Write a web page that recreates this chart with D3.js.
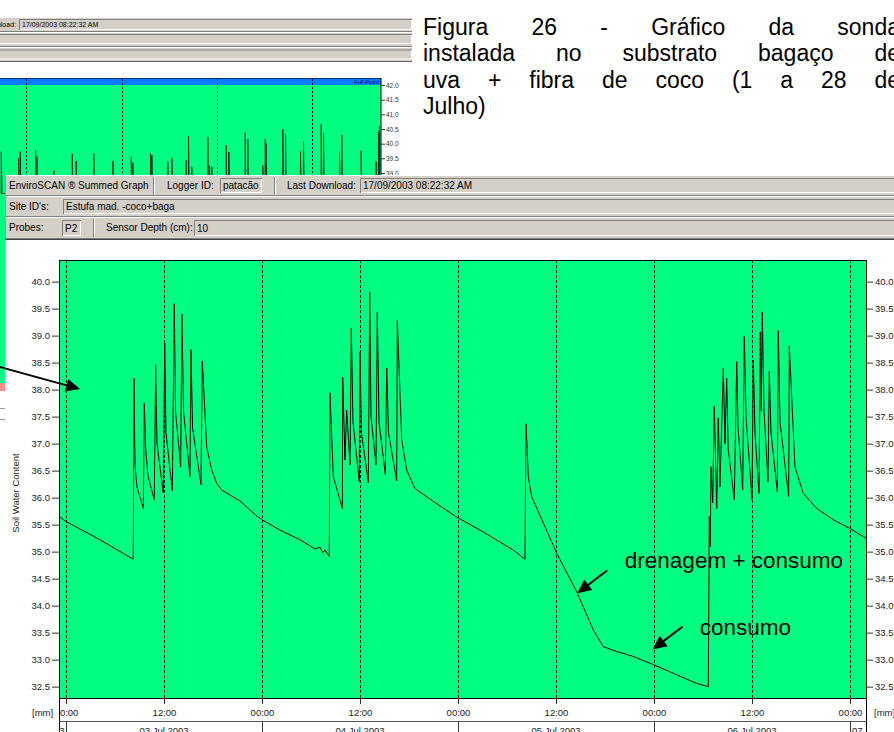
<!DOCTYPE html>
<html>
<head>
<meta charset="utf-8">
<title>Figura 26 - EnviroSCAN</title>
<script src="https://cdn.jsdelivr.net/npm/d3@7/dist/d3.min.js"></script>
<style>
  body { margin: 0; background: #fff; overflow: hidden; }
  svg { display: block; }
  text { font-family: "Liberation Sans", Arial, sans-serif; }
</style>
</head>
<body>
<div id="vis-container"></div>
<script>
// ---- values ----

// probe P2 trace: hours after 03 Jul 2003 00:00, soil water content
var hours = [-0.86, 0, 4.16, 8.24, 8.33, 8.45, 8.69, 9.47, 9.59, 9.76, 10.04, 10.81, 10.98, 11.14, 11.91,
  12.09, 12.24, 13.02, 13.26, 13.41, 14.04, 14.20, 14.39, 15.18, 15.31, 15.49, 16.53, 16.69, 17.23, 17.84,
  18.45, 19.07, 21.31, 23.35, 24.04, 26.20, 28.65, 30.49, 31.10, 31.47, 31.71, 32.24, 32.33, 32.73, 33.84,
  33.88, 34.16, 34.37, 34.78, 34.94, 35.14, 35.91, 36.00, 36.18, 37.02, 37.19, 37.35, 37.96, 38.12, 38.33,
  39.10, 39.27, 39.49, 40.49, 40.57, 41.11, 41.72, 42.73, 44.98, 47.84, 50.69, 54.77, 56.20, 56.33, 56.61,
  57.02, 60.09, 62.53, 64.57, 65.79, 67.43, 69.46, 72.04, 74.78, 77.23, 78.65, 78.77, 78.89, 78.98, 79.19,
  79.38, 79.68, 79.87, 80.08, 80.49, 80.69, 80.90, 81.09, 81.83, 82.13, 82.29, 82.86, 83.06, 83.27, 84.00,
  84.16, 84.37, 84.86, 85.02, 85.14, 85.26, 85.47, 85.96, 86.12, 86.33, 87.10, 87.22, 87.43, 88.49, 88.57,
  89.26, 90.28, 91.92, 93.96, 96.09, 97.96];
var swc = [35.65, 35.56, 35.22, 34.86, 38.21, 36.6, 36.2, 35.80, 37.75, 36.9, 36.4, 35.96, 38.46, 37.0, 36.09,
  38.86, 37.2, 36.13, 39.59, 37.6, 36.57, 39.40, 37.6, 36.39, 38.74, 37.3, 36.24, 38.53, 36.94, 36.51,
  36.27, 36.14, 35.94, 35.66, 35.59, 35.40, 35.22, 35.05, 35.08, 34.98, 35.03, 34.91, 37.94, 36.39, 35.80,
  38.23, 36.70, 37.62, 36.61, 39.14, 37.4, 36.30, 38.70, 37.2, 36.28, 39.81, 37.5, 36.61, 39.43, 37.4,
  36.43, 38.40, 37.2, 36.31, 39.28, 37.07, 36.51, 36.17, 35.93, 35.64, 35.40, 35.03, 34.86, 37.37, 36.39,
  36.02, 34.97, 34.26, 33.55, 33.24, 33.15, 33.06, 32.90, 32.72, 32.56, 32.50, 35.65, 35.09, 36.57, 35.90,
  37.69, 35.80, 37.47, 36.20, 38.40, 37.0, 38.21, 36.9, 35.96, 38.52, 37.3, 36.14, 38.98, 37.5, 35.96,
  38.55, 37.2, 36.08, 39.07, 37.6, 39.44, 37.6, 36.30, 38.34, 37.2, 36.11, 39.09, 37.4, 36.02, 38.81,
  36.57, 36.08, 35.80, 35.59, 35.42, 35.25];

var yTicks = [32.5, 33.0, 33.5, 34.0, 34.5, 35.0, 35.5, 36.0, 36.5, 37.0, 37.5, 38.0, 38.5, 39.0, 39.5, 40.0];
var dayLabels = ["02 Jul 2003", "03 Jul 2003", "04 Jul 2003", "05 Jul 2003", "06 Jul 2003", "07 Jul 2003"];

// the summed graph of the whole month peeking out behind the window
var bgSpikeDays = [0.17, 1.44, 1.56, 2.69, 2.78, 4.03, 5.38, 5.67, 6.96, 8.36, 9.71, 9.82, 11.12, 11.22,
  12.39, 12.69, 13.74, 13.91, 14.15, 15.33, 15.45, 15.62, 16.68, 16.87, 18.07, 18.26, 19.36, 19.54, 19.61,
  20.83, 21.03, 22.13, 22.35, 23.65, 23.82, 24.99, 25.16, 26.58, 27.68, 27.85, 27.92];
var bgSpikeVals = [39.73, 39.51, 39.73, 39.78, 39.56, 39.08, 39.65, 39.41, 39.67, 39.41, 39.56, 39.35, 39.67,
  39.61, 39.39, 39.52, 39.44, 40.26, 39.21, 40.22, 39.25, 39.21, 39.95, 39.71, 40.37, 40.16, 39.25, 40.16,
  40.01, 40.49, 40.33, 39.73, 40.09, 40.67, 40.35, 39.73, 40.30, 39.76, 39.39, 40.41, 40.58];
var bgTicks = [39.0, 39.5, 40.0, 40.5, 41.0, 41.5, 42.0];
var bgWeekLines = [2, 9, 16, 23];

var caption = [
  "Figura 26 - Gráfico da sonda",
  "instalada no substrato bagaço de",
  "uva + fibra de coco (1 a 28 de",
  "Julho)"
];

// annotations: text anchor, arrow tail and tip in chart units (hours, value)
var notes = [
  { text: "drenagem + consumo", at: [68.43, 34.70], tail: [66.26, 34.65], tip: [62.59, 34.23] },
  { text: "consumo", at: [77.61, 33.46], tail: [75.49, 33.61], tip: [71.82, 33.19] }
];
var leftArrow = { tail: [-8.6, 38.44], tip: [1.71, 38.01] };

// ---- drawing ----
var width = 894, height = 732;
var grey = "#d4d0c8";

var svg = d3.select("#vis-container").append("svg")
  .attr("width", width).attr("height", height);

// sunken field of a windows dialog
function field(g, x, y, w, h, label, fs, pad) {
  g.append("rect").attr("x", x).attr("y", y).attr("width", w).attr("height", h).attr("fill", grey);
  g.append("path").attr("d", "M" + (x + 0.5) + "," + (y + h) + "V" + (y + 0.5) + "H" + (x + w))
    .attr("stroke", "#808080").attr("fill", "none");
  g.append("path").attr("d", "M" + (x + 1) + "," + (y + h - 0.5) + "H" + (x + w - 0.5) + "V" + (y + 1))
    .attr("stroke", "#fff").attr("fill", "none");
  if (label) {
    g.append("text").attr("x", x + pad).attr("y", y + h / 2 + fs * 0.36)
      .attr("font-size", fs).attr("fill", "#000").text(label);
  }
}
function hline(g, x1, x2, yy, c) {
  g.append("line").attr("x1", x1).attr("x2", x2).attr("y1", yy).attr("y2", yy).attr("stroke", c);
}
function vline(g, xx, y1, y2, c) {
  g.append("line").attr("x1", xx).attr("x2", xx).attr("y1", y1).attr("y2", y2).attr("stroke", c);
}
function arrow(g, x1, y1, x2, y2) {
  var dx = x2 - x1, dy = y2 - y1, len = Math.sqrt(dx * dx + dy * dy);
  var ux = dx / len, uy = dy / len, L = 14, W = 6.5;
  var bx = x2 - ux * L, by = y2 - uy * L;
  g.append("line").attr("x1", x1).attr("y1", y1).attr("x2", bx + ux * 2).attr("y2", by + uy * 2)
    .attr("stroke", "#000").attr("stroke-width", 2);
  g.append("path")
    .attr("d", "M" + x2 + "," + y2 + "L" + (bx - uy * W) + "," + (by + ux * W) + "L" + (bx + uy * W) + "," + (by - ux * W) + "Z")
    .attr("fill", "#000");
}

// ---------- background window (month view) ----------
var bg = svg.append("g");
bg.append("rect").attr("x", -10).attr("y", 17).attr("width", 422).attr("height", 45).attr("fill", grey);
hline(bg, -10, 412, 17.5, "#fff");
bg.append("text").attr("x", 16).attr("y", 27).attr("text-anchor", "end").attr("font-size", 7).text("Last Download:");
field(bg, 19, 19, 393, 11, "17/09/2003 08:22:32 AM", 7, 3);
hline(bg, -10, 412, 31.5, "#808080"); hline(bg, -10, 412, 32.5, "#fff");
field(bg, -10, 34, 422, 10, null);
hline(bg, -10, 412, 46.5, "#808080"); hline(bg, -10, 412, 47.5, "#fff");
field(bg, -10, 49.5, 422, 10, null);
hline(bg, -10, 412, 61.5, "#606060");

var bgX = d3.scaleLinear().domain([0, 28]).range([-1, 380.5]);
var bgY = d3.scaleLinear().domain([39, 42]).range([173, 85]);

bg.append("rect").attr("x", -5).attr("y", 85).attr("width", 386).attr("height", 298).attr("fill", "#00ff80");
bg.append("rect").attr("x", -5).attr("y", 78).attr("width", 386).attr("height", 7).attr("fill", "#0a7cff");
hline(bg, -5, 381, 78.5, "#002a80");
vline(bg, 381, 78, 383, "#000");
bg.append("text").attr("x", 379).attr("y", 84).attr("text-anchor", "end")
  .attr("font-size", 6).attr("fill", "#001060").text("Full Point");
bg.selectAll("line.week").data(bgWeekLines).enter().append("line")
  .attr("x1", function(d) { return Math.round(bgX(d)) + 0.5; })
  .attr("x2", function(d) { return Math.round(bgX(d)) + 0.5; })
  .attr("y1", 79).attr("y2", 383)
  .attr("stroke", "#000").attr("stroke-dasharray", "2,2");

var spikePts = [];
bgSpikeDays.forEach(function(d, i) {
  spikePts.push([d - 0.01, 38.3], [d, bgSpikeVals[i]], [d + 0.05, 38.3]);
});
bg.append("path")
  .attr("d", d3.line().x(function(p) { return bgX(p[0]); }).y(function(p) { return bgY(p[1]); })(spikePts))
  .attr("fill", "none").attr("stroke", "#04311a").attr("stroke-width", 1);

var bgAxis = bg.append("g").attr("transform", "translate(381,0)")
  .call(d3.axisRight(bgY).tickValues(bgTicks).tickFormat(d3.format(".1f")).tickSize(4).tickPadding(1));
bgAxis.select(".domain").remove();
bgAxis.selectAll("text").attr("font-size", 6.5).attr("fill", "#333");
bgAxis.selectAll("line").attr("stroke", "#333");

bg.append("rect").attr("x", -5).attr("y", 383).attr("width", 10).attr("height", 8).attr("fill", "#ff8a8a");
hline(bg, -5, 5, 408.5, "#999");
hline(bg, -5, 5, 419.5, "#999");

// ---------- caption ----------
var capL = 423, capR = 900, capBase = 35, capLead = 26.3, capSize = 23;
caption.forEach(function(line, i) {
  var words = line.split(" ");
  var g = svg.append("g");
  var nodes = words.map(function(w) {
    return g.append("text").attr("font-size", capSize).attr("fill", "#000")
      .attr("y", capBase + i * capLead).text(w);
  });
  var widths = nodes.map(function(n) { return n.node().getComputedTextLength(); });
  var last = i === caption.length - 1;
  var gap = (last || words.length < 2) ? capSize * 0.278 : (capR - capL - d3.sum(widths)) / (words.length - 1);
  var xx = capL;
  nodes.forEach(function(n, j) { n.attr("x", xx); xx += widths[j] + gap; });
});

// ---------- main window ----------
var win = svg.append("g");
win.append("rect").attr("x", 5).attr("y", 175).attr("width", 900).attr("height", 570).attr("fill", "#fff");
win.append("rect").attr("x", 5).attr("y", 175).attr("width", 900).attr("height", 65).attr("fill", grey);
hline(win, 5, 900, 175.5, "#fff");
vline(win, 5.5, 175, 240, "#9a9a9a");
hline(win, 5, 900, 195.5, "#808080"); hline(win, 5, 900, 196.5, "#fff");
hline(win, 5, 900, 216.5, "#808080"); hline(win, 5, 900, 217.5, "#fff");
hline(win, 5, 900, 238.5, "#808080"); hline(win, 5, 900, 239.5, "#404040");
[153, 274].forEach(function(gx) { vline(win, gx + 0.5, 177, 195, "#808080"); vline(win, gx + 1.5, 177, 195, "#fff"); });
vline(win, 93.5, 218, 237, "#808080"); vline(win, 94.5, 218, 237, "#fff");

var pfs = 10;
function plabel(x, y, t) { win.append("text").attr("x", x).attr("y", y).attr("font-size", pfs).attr("fill", "#000").text(t); }
plabel(9, 189, "EnviroSCAN \u00ae Summed Graph");
plabel(167, 189, "Logger ID:");
field(win, 220, 178, 42, 15, "patacão", pfs, 3);
plabel(287, 189, "Last Download:");
field(win, 360, 178, 545, 15, "17/09/2003 08:22:32 AM", pfs, 3);
plabel(9, 209.5, "Site ID's:");
field(win, 63, 199, 842, 15, "Estufa mad. -coco+baga", pfs, 3);
plabel(9, 231, "Probes:");
field(win, 62, 220, 19, 16, "P2", pfs, 3);
plabel(106, 231, "Sensor Depth (cm):");
field(win, 194, 220, 711, 16, "10", pfs, 3);

// ---------- main plot ----------
var t0 = Date.UTC(2003, 6, 3);
function toDate(h) { return new Date(t0 + h * 3600e3); }

var pL = 59, pR = 866, pT = 260, pB = 698;
var x = d3.scaleUtc().domain([toDate(-0.857), toDate(97.96)]).range([pL, pR]);
var y = d3.scaleLinear().domain([32.29, 40.40]).range([pB, pT]);

var defs = svg.append("defs");
defs.append("clipPath").attr("id", "plotclip").append("rect")
  .attr("x", pL).attr("y", pT).attr("width", pR - pL).attr("height", pB - pT);
defs.append("clipPath").attr("id", "axisclip").append("rect")
  .attr("x", pL + 0.5).attr("y", pB).attr("width", pR - pL).attr("height", 40);

var plot = svg.append("g");
plot.append("rect").attr("x", pL).attr("y", pT).attr("width", pR - pL).attr("height", pB - pT)
  .attr("fill", "#00ff80");

var halfDays = d3.utcHour.every(12).range(x.domain()[0], x.domain()[1]);
plot.selectAll("line.grid").data(halfDays).enter().append("line")
  .attr("x1", function(d) { return Math.round(x(d)) + 0.5; })
  .attr("x2", function(d) { return Math.round(x(d)) + 0.5; })
  .attr("y1", pT).attr("y2", pB)
  .attr("stroke", "#000").attr("stroke-dasharray", "3,2");

var trace = hours.map(function(h, i) { return [toDate(h), swc[i]]; });
plot.append("path")
  .attr("clip-path", "url(#plotclip)")
  .attr("d", d3.line().x(function(d) { return x(d[0]); }).y(function(d) { return y(d[1]); })(trace))
  .attr("fill", "none").attr("stroke", "#000").attr("stroke-width", 1);

// frame, continued down around the time axis rows
plot.append("rect").attr("x", pL + 0.5).attr("y", pT + 0.5).attr("width", pR - pL).attr("height", pB - pT)
  .attr("fill", "none").attr("stroke", "#000");
vline(plot, pL + 0.5, pB, 740, "#000");
vline(plot, pR + 0.5, pB, 740, "#000");
hline(plot, pL, pR + 1, 721.5, "#555");

// y axes
var yl = plot.append("g").attr("transform", "translate(" + pL + ",0)")
  .call(d3.axisLeft(y).tickValues(yTicks).tickFormat(d3.format(".1f")).tickSize(7).tickPadding(2));
var yr = plot.append("g").attr("transform", "translate(" + (pR + 1) + ",0)")
  .call(d3.axisRight(y).tickValues(yTicks).tickFormat(d3.format(".1f")).tickSize(6).tickPadding(2));
[yl, yr].forEach(function(a) {
  a.select(".domain").remove();
  a.selectAll("text").attr("font-size", 9.5).attr("fill", "#222").style("font-family", "'Liberation Sans', Arial, sans-serif");
  a.selectAll("line").attr("stroke", "#333");
});
plot.append("text").attr("transform", "translate(19,493) rotate(-90)")
  .attr("text-anchor", "middle").attr("font-size", 9.5).attr("fill", "#222").text("Soil Water Content");

// time axis (clip on an untransformed wrapper so the clip rect is in page units)
var xa = plot.append("g").attr("clip-path", "url(#axisclip)")
  .append("g").attr("transform", "translate(0," + pB + ")")
  .call(d3.axisBottom(x).ticks(d3.utcHour.every(12)).tickFormat(d3.utcFormat("%H:%M")).tickSize(6).tickPadding(5));
xa.select(".domain").remove();
xa.selectAll("text").attr("font-size", 9.5).attr("fill", "#222").style("font-family", "'Liberation Sans', Arial, sans-serif");
xa.selectAll("line").attr("stroke", "#333");
plot.append("text").attr("x", 32).attr("y", 715.5).attr("font-size", 9.5).attr("fill", "#222").text("[mm]");
plot.append("text").attr("x", 874).attr("y", 715.5).attr("font-size", 9.5).attr("fill", "#222").text("[mm]");

// date row
var dayStarts = d3.utcDay.range(new Date(Date.UTC(2003, 6, 2)), new Date(Date.UTC(2003, 6, 8)));
var dates = plot.append("g").attr("clip-path", "url(#axisclip)");
dayStarts.forEach(function(d, i) {
  var xs = x(d);
  if (xs > pL && xs < pR) vline(dates, Math.round(xs) + 0.5, 721.5, 740, "#333");
  if (i >= dayLabels.length) return;
  var a = Math.max(pL, xs), b = Math.min(pR, x(d3.utcDay.offset(d, 1)));
  var t = dates.append("text").attr("y", 734).attr("font-size", 9.5).attr("fill", "#222").text(dayLabels[i]);
  var w = t.node().getComputedTextLength();
  if (b - a > w + 4) t.attr("x", (a + b) / 2).attr("text-anchor", "middle");
  else if (xs < pL) t.attr("x", b - 1.5).attr("text-anchor", "end");
  else t.attr("x", a + 2).attr("text-anchor", "start");
});

// annotations
function px(p) { return [x(toDate(p[0])), y(p[1])]; }
notes.forEach(function(n) {
  var at = px(n.at), tl = px(n.tail), tp = px(n.tip);
  plot.append("text").attr("x", at[0]).attr("y", at[1]).attr("font-size", 22.5).attr("fill", "#000").text(n.text);
  arrow(plot, tl[0], tl[1], tp[0], tp[1]);
});
var la = px(leftArrow.tail), lb = px(leftArrow.tip);
arrow(svg, la[0], la[1], lb[0], lb[1]);
</script>
</body>
</html>
